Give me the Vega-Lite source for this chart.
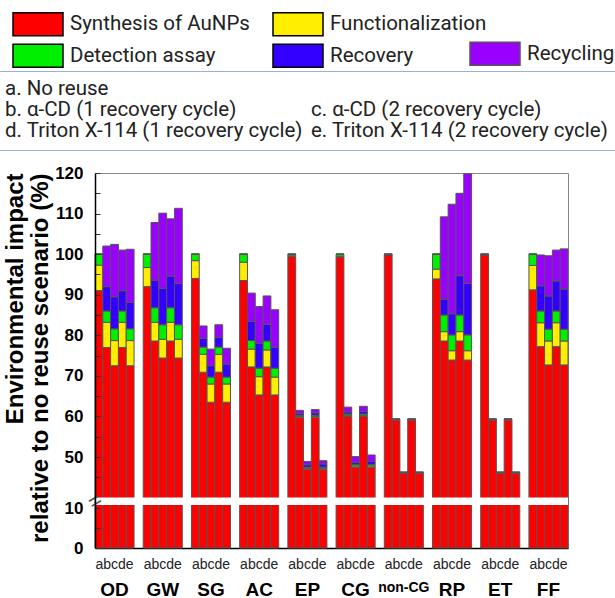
{
  "$schema": "https://vega.github.io/schema/vega-lite/v6.json",
  "width": 473,
  "height": 375,
  "autosize": {"type": "none"},
  "padding": {"left": 95, "top": 173, "right": 47, "bottom": 50},
  "background": "white",
  "config": {
    "view": {"stroke": "#888888", "strokeWidth": 1},
    "font": "Liberation Sans"
  },
  "resolve": {"axis": {"x": "independent"}},
  "layer": [
    {
      "data": {"values": [
        {"group": "OD", "scenario": "a", "Synthesis of AuNPs": 91.0, "Functionalization": 6.3, "Detection assay": 2.7, "Recovery": 0, "Recycling": 0},
        {"group": "OD", "scenario": "b", "Synthesis of AuNPs": 77.0, "Functionalization": 6.2, "Detection assay": 2.8, "Recovery": 6.0, "Recycling": 10.0},
        {"group": "OD", "scenario": "c", "Synthesis of AuNPs": 72.5, "Functionalization": 6.2, "Detection assay": 2.9, "Recovery": 7.9, "Recycling": 12.9},
        {"group": "OD", "scenario": "d", "Synthesis of AuNPs": 77.0, "Functionalization": 6.2, "Detection assay": 2.8, "Recovery": 5.0, "Recycling": 10.0},
        {"group": "OD", "scenario": "e", "Synthesis of AuNPs": 72.5, "Functionalization": 6.2, "Detection assay": 2.9, "Recovery": 6.5, "Recycling": 13.1},
        {"group": "GW", "scenario": "a", "Synthesis of AuNPs": 92.0, "Functionalization": 4.7, "Detection assay": 3.3, "Recovery": 0, "Recycling": 0},
        {"group": "GW", "scenario": "b", "Synthesis of AuNPs": 78.6, "Functionalization": 4.6, "Detection assay": 3.6, "Recovery": 6.8, "Recycling": 14.2},
        {"group": "GW", "scenario": "c", "Synthesis of AuNPs": 74.4, "Functionalization": 4.6, "Detection assay": 3.6, "Recovery": 9.0, "Recycling": 18.5},
        {"group": "GW", "scenario": "d", "Synthesis of AuNPs": 78.6, "Functionalization": 4.6, "Detection assay": 3.6, "Recovery": 7.8, "Recycling": 14.1},
        {"group": "GW", "scenario": "e", "Synthesis of AuNPs": 74.4, "Functionalization": 4.6, "Detection assay": 3.6, "Recovery": 10.2, "Recycling": 18.5},
        {"group": "SG", "scenario": "a", "Synthesis of AuNPs": 94.0, "Functionalization": 4.4, "Detection assay": 1.6, "Recovery": 0, "Recycling": 0},
        {"group": "SG", "scenario": "b", "Synthesis of AuNPs": 70.9, "Functionalization": 4.4, "Detection assay": 1.8, "Recovery": 2.2, "Recycling": 3.0},
        {"group": "SG", "scenario": "c", "Synthesis of AuNPs": 63.5, "Functionalization": 4.5, "Detection assay": 1.7, "Recovery": 2.8, "Recycling": 4.1},
        {"group": "SG", "scenario": "d", "Synthesis of AuNPs": 70.9, "Functionalization": 4.4, "Detection assay": 1.8, "Recovery": 2.4, "Recycling": 3.1},
        {"group": "SG", "scenario": "e", "Synthesis of AuNPs": 63.5, "Functionalization": 4.5, "Detection assay": 1.7, "Recovery": 3.2, "Recycling": 3.9},
        {"group": "AC", "scenario": "a", "Synthesis of AuNPs": 93.5, "Functionalization": 4.5, "Detection assay": 2.0, "Recovery": 0, "Recycling": 0},
        {"group": "AC", "scenario": "b", "Synthesis of AuNPs": 72.2, "Functionalization": 4.4, "Detection assay": 2.1, "Recovery": 4.7, "Recycling": 7.0},
        {"group": "AC", "scenario": "c", "Synthesis of AuNPs": 65.3, "Functionalization": 4.5, "Detection assay": 2.1, "Recovery": 6.1, "Recycling": 9.1},
        {"group": "AC", "scenario": "d", "Synthesis of AuNPs": 72.2, "Functionalization": 4.2, "Detection assay": 2.2, "Recovery": 4.1, "Recycling": 7.0},
        {"group": "AC", "scenario": "e", "Synthesis of AuNPs": 65.3, "Functionalization": 4.4, "Detection assay": 2.2, "Recovery": 5.2, "Recycling": 9.2},
        {"group": "EP", "scenario": "a", "Synthesis of AuNPs": 99.4, "Functionalization": 0.2, "Detection assay": 0.4, "Recovery": 0, "Recycling": 0},
        {"group": "EP", "scenario": "b", "Synthesis of AuNPs": 59.8, "Functionalization": 0.2, "Detection assay": 0.3, "Recovery": 0.4, "Recycling": 0.8},
        {"group": "EP", "scenario": "c", "Synthesis of AuNPs": 47.0, "Functionalization": 0.2, "Detection assay": 0.3, "Recovery": 0.6, "Recycling": 0.8},
        {"group": "EP", "scenario": "d", "Synthesis of AuNPs": 59.8, "Functionalization": 0.2, "Detection assay": 0.3, "Recovery": 0.6, "Recycling": 0.8},
        {"group": "EP", "scenario": "e", "Synthesis of AuNPs": 47.0, "Functionalization": 0.2, "Detection assay": 0.3, "Recovery": 0.8, "Recycling": 0.8},
        {"group": "CG", "scenario": "a", "Synthesis of AuNPs": 99.3, "Functionalization": 0.2, "Detection assay": 0.5, "Recovery": 0, "Recycling": 0},
        {"group": "CG", "scenario": "b", "Synthesis of AuNPs": 60.0, "Functionalization": 0.2, "Detection assay": 0.4, "Recovery": 0.5, "Recycling": 1.2},
        {"group": "CG", "scenario": "c", "Synthesis of AuNPs": 47.5, "Functionalization": 0.3, "Detection assay": 0.4, "Recovery": 0.5, "Recycling": 1.4},
        {"group": "CG", "scenario": "d", "Synthesis of AuNPs": 60.0, "Functionalization": 0.2, "Detection assay": 0.4, "Recovery": 0.6, "Recycling": 1.3},
        {"group": "CG", "scenario": "e", "Synthesis of AuNPs": 47.5, "Functionalization": 0.3, "Detection assay": 0.4, "Recovery": 0.7, "Recycling": 1.6},
        {"group": "non-CG", "scenario": "a", "Synthesis of AuNPs": 99.8, "Functionalization": 0.1, "Detection assay": 0.1, "Recovery": 0, "Recycling": 0},
        {"group": "non-CG", "scenario": "b", "Synthesis of AuNPs": 59.1, "Functionalization": 0.1, "Detection assay": 0.1, "Recovery": 0.05, "Recycling": 0.05},
        {"group": "non-CG", "scenario": "c", "Synthesis of AuNPs": 46.0, "Functionalization": 0.1, "Detection assay": 0.1, "Recovery": 0.05, "Recycling": 0.05},
        {"group": "non-CG", "scenario": "d", "Synthesis of AuNPs": 59.1, "Functionalization": 0.1, "Detection assay": 0.1, "Recovery": 0.05, "Recycling": 0.05},
        {"group": "non-CG", "scenario": "e", "Synthesis of AuNPs": 46.0, "Functionalization": 0.1, "Detection assay": 0.1, "Recovery": 0.05, "Recycling": 0.05},
        {"group": "RP", "scenario": "a", "Synthesis of AuNPs": 93.9, "Functionalization": 2.4, "Detection assay": 3.7, "Recovery": 0, "Recycling": 0},
        {"group": "RP", "scenario": "b", "Synthesis of AuNPs": 78.6, "Functionalization": 2.3, "Detection assay": 4.1, "Recovery": 3.9, "Recycling": 20.3},
        {"group": "RP", "scenario": "c", "Synthesis of AuNPs": 73.9, "Functionalization": 2.3, "Detection assay": 3.9, "Recovery": 5.2, "Recycling": 27.0},
        {"group": "RP", "scenario": "d", "Synthesis of AuNPs": 78.6, "Functionalization": 2.3, "Detection assay": 4.1, "Recovery": 9.7, "Recycling": 20.3},
        {"group": "RP", "scenario": "e", "Synthesis of AuNPs": 73.9, "Functionalization": 2.3, "Detection assay": 3.9, "Recovery": 12.7, "Recycling": 27.0},
        {"group": "ET", "scenario": "a", "Synthesis of AuNPs": 99.8, "Functionalization": 0.1, "Detection assay": 0.1, "Recovery": 0, "Recycling": 0},
        {"group": "ET", "scenario": "b", "Synthesis of AuNPs": 59.1, "Functionalization": 0.1, "Detection assay": 0.1, "Recovery": 0.05, "Recycling": 0.05},
        {"group": "ET", "scenario": "c", "Synthesis of AuNPs": 46.0, "Functionalization": 0.1, "Detection assay": 0.1, "Recovery": 0.05, "Recycling": 0.05},
        {"group": "ET", "scenario": "d", "Synthesis of AuNPs": 59.1, "Functionalization": 0.1, "Detection assay": 0.1, "Recovery": 0.05, "Recycling": 0.05},
        {"group": "ET", "scenario": "e", "Synthesis of AuNPs": 46.0, "Functionalization": 0.1, "Detection assay": 0.1, "Recovery": 0.05, "Recycling": 0.05},
        {"group": "FF", "scenario": "a", "Synthesis of AuNPs": 91.2, "Functionalization": 6.0, "Detection assay": 2.8, "Recovery": 0, "Recycling": 0},
        {"group": "FF", "scenario": "b", "Synthesis of AuNPs": 77.2, "Functionalization": 5.9, "Detection assay": 2.9, "Recovery": 6.2, "Recycling": 7.6},
        {"group": "FF", "scenario": "c", "Synthesis of AuNPs": 72.7, "Functionalization": 5.9, "Detection assay": 2.9, "Recovery": 8.2, "Recycling": 9.9},
        {"group": "FF", "scenario": "d", "Synthesis of AuNPs": 77.2, "Functionalization": 5.9, "Detection assay": 2.9, "Recovery": 7.4, "Recycling": 7.6},
        {"group": "FF", "scenario": "e", "Synthesis of AuNPs": 72.7, "Functionalization": 5.9, "Detection assay": 2.9, "Recovery": 9.9, "Recycling": 9.9}
      ]},
      "transform": [
        {"fold": ["Synthesis of AuNPs", "Functionalization", "Detection assay", "Recovery", "Recycling"], "as": ["stage", "impact"]},
        {"lookup": "stage", "from": {"data": {"values": [
          {"stage": "Synthesis of AuNPs", "stack_rank": 1},
          {"stage": "Functionalization", "stack_rank": 2},
          {"stage": "Detection assay", "stack_rank": 3},
          {"stage": "Recovery", "stack_rank": 4},
          {"stage": "Recycling", "stack_rank": 5}
        ]}, "key": "stage", "fields": ["stack_rank"]}}
      ],
      "mark": {"type": "bar", "strokeWidth": 1},
      "encoding": {
        "x": {
          "field": "group", "type": "nominal",
          "scale": {"domain": ["OD", "GW", "SG", "AC", "EP", "CG", "non-CG", "RP", "ET", "FF"], "paddingInner": 0.19, "paddingOuter": 0},
          "axis": {"orient": "bottom", "title": null, "labelExpr": "'abcde'", "labelAngle": 0, "labelFont": "Liberation Sans", "labelFontSize": 14, "labelColor": "#222222", "labelPadding": 9, "ticks": false, "domainColor": "black", "domainWidth": 1.5}
        },
        "xOffset": {"field": "scenario", "type": "nominal", "scale": {"domain": ["a", "b", "c", "d", "e"], "paddingInner": 0, "paddingOuter": 0}},
        "y": {
          "field": "impact", "type": "quantitative", "stack": "zero",
          "scale": {"domain": [0, 10.8, 40, 120], "range": [375, 332, 324.6, 0], "nice": false},
          "axis": {
            "title": ["Environmental impact", "relative to no reuse scenario (%)"],
            "titleFont": "Liberation Sans", "titleFontSize": 24, "titleFontWeight": "bold", "titleColor": "black", "titlePadding": 2, "titleLineHeight": 25, "titleAnchor": "end",
            "values": [0, 5, 10, 45, 50, 55, 60, 65, 70, 75, 80, 85, 90, 95, 100, 105, 110, 115, 120],
            "labelExpr": "datum.value % 10 === 0 ? datum.label : ''",
            "labelOverlap": false,
            "labelFont": "Liberation Sans", "labelFontSize": 17, "labelFontWeight": "bold", "labelColor": "black", "labelPadding": 17,
            "tickSize": -5, "tickColor": "#333333", "domainColor": "black", "domainWidth": 1.5, "grid": false, "zindex": 1
          }
        },
        "order": {"field": "stack_rank", "type": "quantitative"},
        "color": {
          "field": "stage", "type": "nominal",
          "scale": {
            "domain": ["Synthesis of AuNPs", "Functionalization", "Detection assay", "Recovery", "Recycling"],
            "range": ["#ff0000", "#ffee00", "#00ee00", "#3300ff", "#9900ff"]
          },
          "legend": {
            "title": null, "orient": "none", "legendX": -82, "legendY": -159.25, "direction": "horizontal",
            "values": ["Synthesis of AuNPs", "Functionalization", "Detection assay", "Recovery"],
            "columns": 2, "columnPadding": 20, "rowPadding": 1.7, "gridAlign": "each", "padding": 0,
            "symbolType": "M-5,-2.3L5,-2.3L5,2.3L-5,2.3Z", "symbolSize": 100, "symbolOffset": 14.75,
            "symbolStrokeColor": "black", "symbolStrokeWidth": 1.5, "symbolOpacity": 1,
            "labelFont": "Roboto", "labelFontSize": 20.5, "labelColor": "#222222", "labelOffset": 21.75, "labelLimit": 400,
            "encode": {"symbols": {"update": {"stroke": {"value": "black"}, "strokeWidth": {"value": 1.5}}}}
          }
        },
        "stroke": {
          "field": "stage", "type": "nominal",
          "scale": {
            "domain": ["Recycling", "Recovery", "Detection assay", "Functionalization", "Synthesis of AuNPs"],
            "range": ["#555555", "#555555", "#555555", "#555555", "#555555"]
          },
          "legend": {
            "title": null, "orient": "none", "legendX": 375, "legendY": -129.55, "direction": "horizontal",
            "values": ["Recycling"], "padding": 0,
            "symbolType": "M-5,-2.3L5,-2.3L5,2.3L-5,2.3Z", "symbolSize": 100, "symbolOffset": 14.75,
            "symbolFillColor": "#9900ff", "symbolStrokeColor": "black", "symbolStrokeWidth": 1.5, "symbolOpacity": 1,
            "labelFont": "Roboto", "labelFontSize": 20.5, "labelColor": "#222222", "labelOffset": 21.75, "labelLimit": 400,
            "encode": {"symbols": {"update": {"fill": {"value": "#9900ff"}, "stroke": {"value": "black"}, "strokeWidth": {"value": 1.5}, "opacity": {"value": 1}}}}
          }
        },
        "opacity": {
          "field": "scenario", "type": "nominal",
          "scale": {"domain": ["a", " ", "b", "c", "d", "e"], "range": [1, 1, 1, 1, 1, 1]},
          "legend": {
            "title": null, "orient": "none", "legendX": -98, "legendY": -102, "direction": "horizontal",
            "columns": 2, "columnPadding": 8, "rowPadding": 0, "gridAlign": "each",
            "symbolSize": 0, "symbolOpacity": 0, "symbolStrokeWidth": 0, "labelOffset": -20.5,
            "labelFont": "Roboto", "labelFontSize": 20.5, "labelColor": "#222222", "labelLimit": 500,
            "labelExpr": "datum.value === 'a' ? 'a. No reuse' : datum.value === 'b' ? 'b. α-CD (1 recovery cycle)' : datum.value === 'c' ? 'c. α-CD (2 recovery cycle)' : datum.value === 'd' ? 'd. Triton X-114 (1 recovery cycle)' : datum.value === 'e' ? 'e. Triton X-114 (2 recovery cycle)' : ''",
            "padding": 8, "strokeColor": "#9cb0d6",
            "encode": {"legend": {"update": {"strokeWidth": {"value": 3}}}}
          }
        }
      }
    },
    {
      "data": {"values": [{"break_from": 10.8, "break_to": 40}]},
      "mark": {"type": "rect", "fill": "white"},
      "encoding": {
        "y": {
          "field": "break_from", "type": "quantitative",
          "scale": {"domain": [0, 10.8, 40, 120], "range": [375, 332, 324.6, 0], "nice": false},
          "axis": {
            "title": ["Environmental impact", "relative to no reuse scenario (%)"],
            "titleFont": "Liberation Sans", "titleFontSize": 24, "titleFontWeight": "bold", "titleColor": "black", "titlePadding": 2, "titleLineHeight": 25, "titleAnchor": "end",
            "values": [0, 5, 10, 45, 50, 55, 60, 65, 70, 75, 80, 85, 90, 95, 100, 105, 110, 115, 120],
            "labelExpr": "datum.value % 10 === 0 ? datum.label : ''",
            "labelOverlap": false,
            "labelFont": "Liberation Sans", "labelFontSize": 17, "labelFontWeight": "bold", "labelColor": "black", "labelPadding": 17,
            "tickSize": -5, "tickColor": "#333333", "domainColor": "black", "domainWidth": 1.5, "grid": false, "zindex": 1
          }
        },
        "y2": {"field": "break_to"}
      }
    },
    {
      "data": {"values": [{"group": "OD", "break_at": 25.4}]},
      "mark": {"type": "text", "text": "=", "fontSize": 22, "angle": -30, "color": "#555555", "font": "Liberation Sans"},
      "encoding": {
        "x": {
          "field": "group", "type": "nominal", "bandPosition": 0,
          "scale": {"domain": ["OD", "GW", "SG", "AC", "EP", "CG", "non-CG", "RP", "ET", "FF"], "paddingInner": 0.19, "paddingOuter": 0},
          "axis": {"orient": "bottom", "title": null, "labelAngle": 0, "labelFont": "Liberation Sans", "labelFontSize": {"condition": {"test": "datum.value === 'non-CG'", "value": 14}, "value": 19}, "labelFontWeight": "bold", "labelColor": "black", "labelPadding": 32, "ticks": false, "domain": false}
        },
        "y": {
          "field": "break_at", "type": "quantitative",
          "scale": {"domain": [0, 10.8, 40, 120], "range": [375, 332, 324.6, 0], "nice": false},
          "axis": {
            "title": ["Environmental impact", "relative to no reuse scenario (%)"],
            "titleFont": "Liberation Sans", "titleFontSize": 24, "titleFontWeight": "bold", "titleColor": "black", "titlePadding": 2, "titleLineHeight": 25, "titleAnchor": "end",
            "values": [0, 5, 10, 45, 50, 55, 60, 65, 70, 75, 80, 85, 90, 95, 100, 105, 110, 115, 120],
            "labelExpr": "datum.value % 10 === 0 ? datum.label : ''",
            "labelOverlap": false,
            "labelFont": "Liberation Sans", "labelFontSize": 17, "labelFontWeight": "bold", "labelColor": "black", "labelPadding": 17,
            "tickSize": -5, "tickColor": "#333333", "domainColor": "black", "domainWidth": 1.5, "grid": false, "zindex": 1
          }
        }
      }
    }
  ]
}
